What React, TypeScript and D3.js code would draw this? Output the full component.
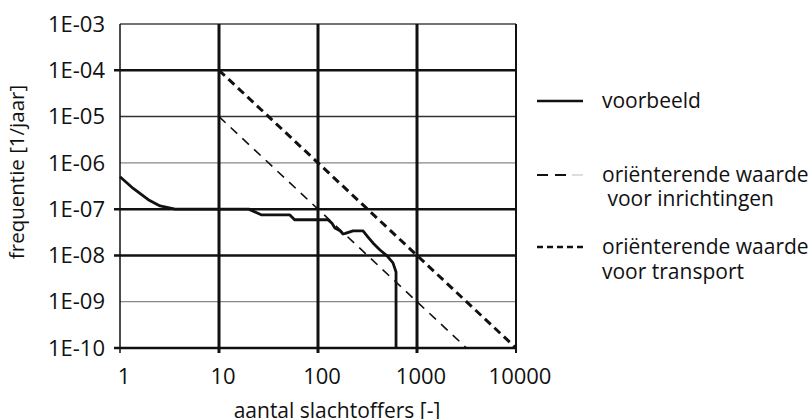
import React from "react";
import * as d3 from "d3";

const yTicks = [1e-3, 1e-4, 1e-5, 1e-6, 1e-7, 1e-8, 1e-9, 1e-10];
const yTickLabels = ["1E-03", "1E-04", "1E-05", "1E-06", "1E-07", "1E-08", "1E-09", "1E-10"];
const xTicks = [1, 10, 100, 1000, 10000];
const xTickLabels = ["1", "10", "100", "1000", "10000"];

// voorbeeld curve [aantal, frequentie]
const voorbeeldN = [1, 1.36, 1.93, 2.54, 3.6, 20, 27, 52, 58, 126, 138, 148, 167, 179, 189, 226, 285, 320, 359, 423, 498, 572, 614, 614];
const voorbeeldF = [5e-7, 2.8e-7, 1.6e-7, 1.17e-7, 1e-7, 1e-7, 7.5e-8, 7.5e-8, 5.9e-8, 5.9e-8, 5e-8, 3.9e-8, 3.4e-8, 2.9e-8, 3.0e-8, 3.4e-8, 3.4e-8, 2.5e-8, 1.86e-8, 1.31e-8, 9.8e-9, 6.9e-9, 4.4e-9, 1e-10];

const inrichtingenN = [10, 3162];
const inrichtingenF = [1e-5, 1e-10];
const transportN = [10, 10000];
const transportF = [1e-4, 1e-10];

const legendLabels = [["voorbeeld"], ["oriënterende waarde", " voor inrichtingen"], ["oriënterende waarde", "voor transport"]];

const W = 811, H = 419;
const L = 120, R = 516, T = 24, B = 348;

export default function App() {
  const x = d3.scaleLog().domain([1, 10000]).range([L, R]);
  const y = d3.scaleLog().domain([1e-10, 1e-3]).range([B, T]);
  const line = d3.line<[number, number]>().x(d => x(d[0])).y(d => y(d[1]));
  const font = "'Open Sans', sans-serif";

  const hStyle = (i: number) => {
    const thick = [1, 4, 5, 7].includes(i);
    if (thick) return { w: 2.5, c: "#111", left: L - 6 };
    if (i === 0) return { w: 1.5, c: "#444", left: L };
    if (i === 2) return { w: 1.5, c: "#333", left: L };
    return { w: 1.2, c: "#888", left: L };
  };
  const vStyle = (i: number) => {
    if (i === 0) return 1.5;
    if (i === 4) return 2;
    return 3;
  };

  const voorbeeld = voorbeeldN.map((n, i) => [n, voorbeeldF[i]] as [number, number]);
  const inr = inrichtingenN.map((n, i) => [n, inrichtingenF[i]] as [number, number]);
  const tra = transportN.map((n, i) => [n, transportF[i]] as [number, number]);

  const legendText = { fontFamily: font, fontSize: 21, fill: "#111" } as const;

  return (
    <svg width={W} height={H} style={{ display: "block", position: "absolute", left: 0, top: 0, background: "#fff" }}>
      {yTicks.map((t, i) => {
        const s = hStyle(i);
        return <line key={"h" + i} x1={s.left} x2={R} y1={y(t)} y2={y(t)} stroke={s.c} strokeWidth={s.w} />;
      })}
      {xTicks.map((t, i) => (
        <line key={"v" + i} x1={x(t)} x2={x(t)} y1={T} y2={B + 5} stroke="#111" strokeWidth={vStyle(i)} />
      ))}
      <path d={line(inr) || ""} fill="none" stroke="#111" strokeWidth={1.6} strokeDasharray="9 7" />
      <path d={line(tra) || ""} fill="none" stroke="#111" strokeWidth={3} strokeDasharray="8 5" />
      <path d={line(voorbeeld) || ""} fill="none" stroke="#111" strokeWidth={2.8} strokeLinejoin="round" />

      {yTicks.map((t, i) => (
        <text key={"yl" + i} x={105} y={y(t)} dy="0.35em" textAnchor="end" fontFamily={font} fontSize={22} fill="#111">
          {yTickLabels[i]}
        </text>
      ))}
      {xTicks.map((t, i) => (
        <text key={"xl" + i} x={x(t) + 4} y={384} textAnchor="middle" fontFamily={font} fontSize={22} fill="#111">
          {xTickLabels[i]}
        </text>
      ))}
      <text x={337} y={418} textAnchor="middle" fontFamily={font} fontSize={21} fill="#111">aantal slachtoffers [-]</text>
      <text transform={`translate(24,172) rotate(-90)`} textAnchor="middle" fontFamily={font} fontSize={20.5} fill="#111">frequentie [1/jaar]</text>

      {/* legend */}
      <line x1={537} x2={583} y1={101} y2={101} stroke="#111" strokeWidth={2.4} />
      <text x={602} y={101} dy="0.35em" {...legendText}>{legendLabels[0][0]}</text>

      <line x1={537} x2={548} y1={175} y2={175} stroke="#111" strokeWidth={2} />
      <line x1={555} x2={566} y1={175} y2={175} stroke="#111" strokeWidth={2} />
      <line x1={572} x2={583} y1={175} y2={175} stroke="#bbb" strokeWidth={1} />
      <text x={602} y={175} dy="0.35em" {...legendText}>{legendLabels[1][0]}</text>
      <text x={602} y={199} dy="0.35em" {...legendText} style={{ whiteSpace: "pre" }}>{legendLabels[1][1]}</text>

      <line x1={537} x2={583} y1={247} y2={247} stroke="#111" strokeWidth={2.6} strokeDasharray="6 4" />
      <text x={602} y={247} dy="0.35em" {...legendText}>{legendLabels[2][0]}</text>
      <text x={602} y={272} dy="0.35em" {...legendText}>{legendLabels[2][1]}</text>
    </svg>
  );
}
